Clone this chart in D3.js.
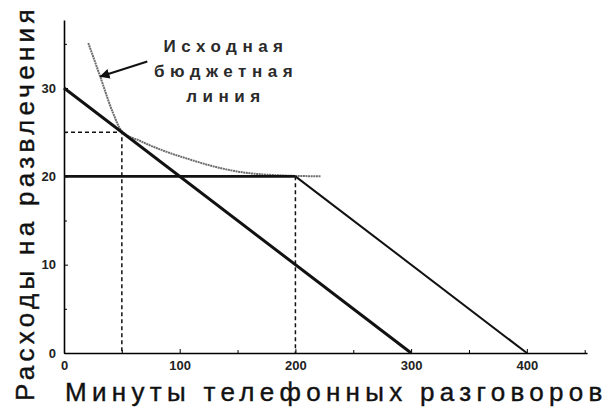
<!DOCTYPE html>
<html>
<head>
<meta charset="utf-8">
<script src="https://cdn.jsdelivr.net/npm/d3@7"></script>
<style>
  html, body { margin: 0; padding: 0; background: #fff; }
  svg { display: block; font-family: "Liberation Sans", Arial, sans-serif; }
</style>
</head>
<body>
<svg id="chart" width="609" height="407"></svg>
<script>
const xMajorTicks = [0, 100, 200, 300, 400]
const xMinorTicks = [50, 150, 250, 350, 450]
const yMajorTicks = [0, 10, 20, 30]
const yMinorTicks = [5, 15, 25, 35]

// original budget line: 30 on entertainment or 300 minutes
const budgetOriginal = [{x: 0, y: 30}, {x: 300, y: 0}]
// budget with the subsidy: kink at 200 minutes
const budgetFlat = [{x: 0, y: 20}, {x: 200, y: 20}]
const budgetSlope = [{x: 200, y: 20}, {x: 400, y: 0}]
// indifference curve
const indiffCurve = [
  {x: 21, y: 35.1}, {x: 31, y: 31.4}, {x: 42, y: 27.3}, {x: 50, y: 25.1},
  {x: 66, y: 24.0}, {x: 86, y: 22.9}, {x: 109, y: 21.9}, {x: 130, y: 21.1},
  {x: 152, y: 20.5}, {x: 180, y: 20.15}, {x: 222, y: 20.0},
]
const guides = [
  [{x: 0, y: 25}, {x: 50, y: 25}, {x: 50, y: 0}],
  [{x: 200, y: 20}, {x: 200, y: 0}],
]
const noteLines = ["Исходная", "бюджетная", "линия"]
const arrowFrom = {x: 72, y: 33.0}
const arrowTo = {x: 31.5, y: 31.3}

const xTitle = "Минуты телефонных разговоров"
const yTitle = "Расходы на развлечения"

const svg = d3.select("#chart")
const x = d3.scaleLinear().domain([0, 452]).range([64, 587])
const y = d3.scaleLinear().domain([0, 37.7]).range([353, 20])

const line = d3.line().x((d) => x(d.x)).y((d) => y(d.y))

// axes (ticks point inward)
svg.append("g")
  .attr("transform", `translate(0,${y(0)})`)
  .call(d3.axisBottom(x).tickValues(xMajorTicks).tickSizeInner(-4).tickSizeOuter(0).tickPadding(8))
  .call((g) => g.select(".domain").attr("stroke-width", 1.6))
  .call((g) => g.selectAll("text").attr("font-size", 13).attr("font-weight", "bold").attr("fill", "#222"))

svg.append("g")
  .attr("transform", `translate(0,${y(0)})`)
  .call(d3.axisBottom(x).tickValues(xMinorTicks).tickSizeInner(-3).tickSizeOuter(0).tickFormat(""))
  .call((g) => g.select(".domain").remove())

svg.append("g")
  .attr("transform", `translate(${x(0)},0)`)
  .call(d3.axisLeft(y).tickValues(yMajorTicks).tickSizeInner(-4).tickSizeOuter(0).tickPadding(8))
  .call((g) => g.select(".domain").attr("stroke-width", 1.6))
  .call((g) => g.selectAll("text").attr("font-size", 13).attr("font-weight", "bold").attr("fill", "#222"))

svg.append("g")
  .attr("transform", `translate(${x(0)},0)`)
  .call(d3.axisLeft(y).tickValues(yMinorTicks).tickSizeInner(-3).tickSizeOuter(0).tickFormat(""))
  .call((g) => g.select(".domain").remove())

// dashed guides
svg.append("g")
  .selectAll("path")
  .data(guides)
  .join("path")
  .attr("d", line)
  .attr("fill", "none")
  .attr("stroke", "#111")
  .attr("stroke-width", 1.5)
  .attr("stroke-dasharray", "4,3")

// indifference curve (grey, under the budget lines)
svg.append("path")
  .datum(indiffCurve)
  .attr("d", line.curve(d3.curveMonotoneX))
  .attr("fill", "none")
  .attr("stroke", "#6e6e6e")
  .attr("stroke-width", 2)
  .attr("stroke-dasharray", "2,0.6")
line.curve(d3.curveLinear)

svg.append("path")
  .datum(budgetOriginal)
  .attr("d", line)
  .attr("fill", "none")
  .attr("stroke", "#111")
  .attr("stroke-width", 3)

svg.append("path")
  .datum(budgetFlat)
  .attr("d", line)
  .attr("fill", "none")
  .attr("stroke", "#111")
  .attr("stroke-width", 2.6)

svg.append("path")
  .datum(budgetSlope)
  .attr("d", line)
  .attr("fill", "none")
  .attr("stroke", "#111")
  .attr("stroke-width", 2)

// annotation
svg.append("defs").append("marker")
  .attr("id", "head")
  .attr("viewBox", "0 0 10 10")
  .attr("refX", 9).attr("refY", 5)
  .attr("markerWidth", 5).attr("markerHeight", 5)
  .attr("orient", "auto")
  .append("path").attr("d", "M0,0L10,5L0,10z").attr("fill", "#111")

svg.append("line")
  .attr("x1", x(arrowFrom.x)).attr("y1", y(arrowFrom.y))
  .attr("x2", x(arrowTo.x)).attr("y2", y(arrowTo.y))
  .attr("stroke", "#111")
  .attr("stroke-width", 2)
  .attr("marker-end", "url(#head)")

svg.append("g")
  .selectAll("text")
  .data(noteLines)
  .join("text")
  .attr("x", 226)
  .attr("y", (d, i) => 52 + i * 25)
  .attr("text-anchor", "middle")
  .attr("font-size", 17)
  .attr("font-weight", "bold")
  .attr("letter-spacing", 5.5)
  .attr("fill", "#2a2a2a")
  .text((d) => d)

// axis titles
svg.append("text")
  .attr("x", 65)
  .attr("y", 401)
  .attr("font-size", 26)
  .attr("letter-spacing", 5.3)
  .attr("fill", "#111")
  .attr("stroke", "#111")
  .attr("stroke-width", 0.4)
  .text(xTitle)

svg.append("text")
  .attr("transform", "translate(34,401) rotate(-90)")
  .attr("font-size", 26)
  .attr("letter-spacing", 4.3)
  .attr("fill", "#111")
  .attr("stroke", "#111")
  .attr("stroke-width", 0.4)
  .text(yTitle)
</script>
</body>
</html>
